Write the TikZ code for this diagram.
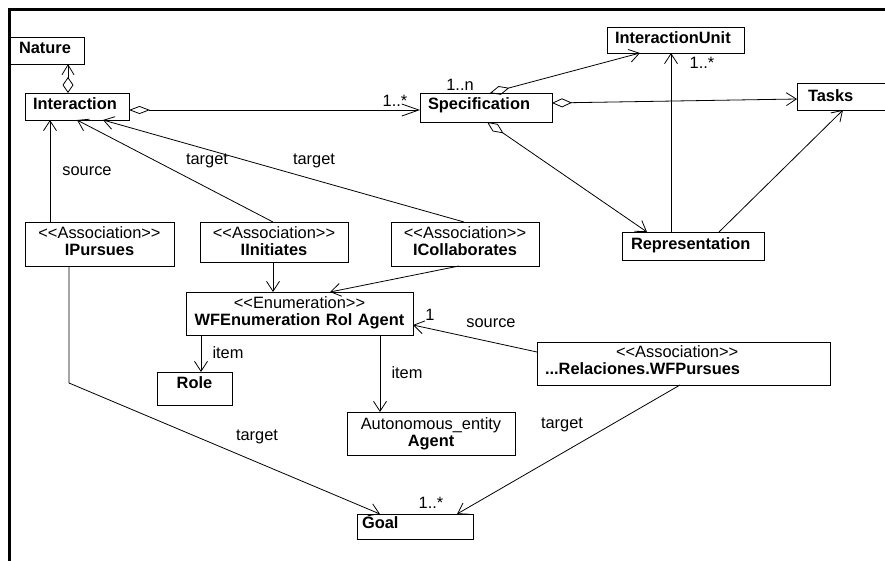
\documentclass[tikz,border=0pt]{standalone}
\usepackage{fontspec}
\setmainfont{Liberation Sans}
\usetikzlibrary{arrows.meta,calc}
\newcommand\dn[1]{\rule[-#1]{0pt}{#1}}
\newcommand\st[1]{<{}<#1>{}>}
\begin{document}
\begin{tikzpicture}[x=1pt,y=-1pt,
  every node/.style={font=\fontsize{16.4}{17}\selectfont, inner sep=0pt, outer sep=0pt},
  box/.style={draw, line width=0.8pt, anchor=north west, inner xsep=8pt, inner ysep=0pt},
  lbl/.style={inner sep=0pt},
  oa/.style={line width=0.8pt, -{Straight Barb[length=10pt,width=13pt]}},
  agg/.style={line width=0.8pt, {Diamond[open,length=20pt,width=9pt]}-{Straight Barb[length=10pt,width=13pt]}}]
\useasboundingbox (0,0) rectangle (885,560);
\clip (0,0) rectangle (885,560);
\fill[white] (0,0) rectangle (885,560);
\draw[line width=3pt] (9,570) -- (9,9) -- (895,9);

% boxes
\node[box, minimum height=27pt, inner xsep=10pt, text width=55pt, align=left] (nature) at (9,37) {\textbf{Nature}\dn{6pt}};
\node[box, minimum height=27pt, text width=88pt, align=left] (interaction) at (25,93) {\textbf{Interaction}\dn{6pt}};
\node[box, minimum height=29pt, text width=116pt, align=left] (spec) at (420,93) {\textbf{Specification}\dn{7pt}};
\node[box, minimum height=26pt, text width=121pt, align=left] (iunit) at (607,27) {\textbf{InteractionUnit}\dn{5pt}};
\node[box, minimum height=27pt, inner xsep=11pt, text width=78pt, align=left] (tasks) at (797,83) {\textbf{Tasks}\dn{1pt}};
\node[box, minimum height=28pt, inner xsep=9pt, text width=124pt, align=left] (repr) at (622,232) {\textbf{Representation}\dn{5pt}};
\node[box, minimum height=44pt, text width=133pt, align=center] (ipursues) at (25,222) {\st{Association}\\\textbf{IPursues}\dn{6pt}};
\node[box, minimum height=40pt, text width=132pt, align=center] (iinit) at (200,222) {\st{Association}\\\textbf{IInitiates}\dn{2.7pt}};
\node[box, minimum height=44pt, text width=132pt, align=center] (icollab) at (391,222) {\st{Association}\\\textbf{ICollaborates}\dn{6pt}};
\node[box, minimum height=43pt, inner xsep=4pt, text width=219pt, align=center] (wfenum) at (186,292) {\st{Enumeration}\\\textbf{WFEnumeration Rol Agent}\dn{5pt}};
\node[box, minimum height=33pt, text width=59pt, align=center] (role) at (157,372) {\textbf{Role}\dn{11pt}};
\node[box, minimum height=43pt, inner xsep=4pt, text width=160pt, align=center] (agent) at (347,412) {Autonomous\_entity\\\textbf{Agent}};
\node[box, minimum height=43pt, text width=277pt, align=left] (wfpursues) at (537,342) {\hspace*{71pt}\st{Association}\\\textbf{...Relaciones.WFPursues}\dn{6pt}};
\node[box, minimum height=25pt, inner xsep=5pt, text width=106pt, align=left] (goal) at (357,514) {\textbf{Goal}\dn{7pt}};

% connectors
\draw[line width=0.8pt, {Diamond[open,length=16pt,width=11pt]}-{Straight Barb[length=10pt,width=12pt]}]
  ($(interaction.north west)+(43,0)$) -- ($(nature.south west)+(59,0)$);
\draw[line width=0.8pt, {Diamond[open,length=21pt,width=8pt]}-{Straight Barb[length=17pt,width=12pt]}]
  ($(interaction.north east)+(0,17)$) -- ($(spec.north west)+(0,17)$);
\draw[agg] ($(spec.north west)+(70,0)$) -- ($(iunit.south west)+(33,0)$);
\draw[agg] ($(spec.north east)+(0,10)$) -- ($(tasks.north west)+(0,16)$);
\draw[agg] ($(spec.south west)+(67,0)$) -- ($(repr.north west)+(25,0)$);
\draw[oa] ($(repr.north west)+(49,0)$) -- ($(iunit.south west)+(64,0)$);
\draw[oa] ($(repr.north west)+(97,0)$) -- ($(tasks.south west)+(46,0)$);
\draw[oa] ($(ipursues.north west)+(25,0)$) -- ($(interaction.south west)+(25,0)$);
\draw[oa] ($(iinit.north west)+(73,0)$) -- ($(interaction.south west)+(52,0)$);
\draw[oa] ($(icollab.north west)+(73,0)$) -- ($(interaction.south west)+(78,0)$);
\draw[oa] ($(iinit.south west)+(73,0)$) -- ($(wfenum.north west)+(87,0)$);
\draw[oa] ($(icollab.south west)+(68,0)$) -- ($(wfenum.north west)+(144,0)$);
\draw[oa] ($(wfenum.south west)+(15,0)$) -- ($(role.north west)+(44,0)$);
\draw[oa] ($(wfenum.south west)+(194,0)$) -- ($(agent.north west)+(33,0)$);
\draw[oa] ($(wfpursues.north west)+(0,10)$) -- ($(wfenum.north east)+(0,33)$);
\draw[oa] ($(ipursues.south west)+(44,0)$) -- ++(0,117) -- ($(goal.north west)+(23,0)$);
\draw[oa] ($(wfpursues.south west)+(143,0)$) -- ($(goal.north west)+(100,0)$);

% labels
\node[lbl] (m1) at (395,101) {1..*};
\node[lbl] (m2) at (460,85) {1..n};
\node[lbl] (m3) at (702,63) {1..*};
\node[lbl] (l1) at (87,171) {source};
\node[lbl] (l2) at (207,161) {target};
\node[lbl] (l3) at (314,161) {target};
\node[lbl] (l4) at (228,353) {item};
\node[lbl] (l5) at (407,373) {item};
\node[lbl] (m4) at (430,315) {1};
\node[lbl] (l6) at (491,323) {source};
\node[lbl] (l7) at (257,437) {target};
\node[lbl] (l8) at (562,425) {target};
\node[lbl] (m5) at (431,503) {1..*};
\end{tikzpicture}
\end{document}
